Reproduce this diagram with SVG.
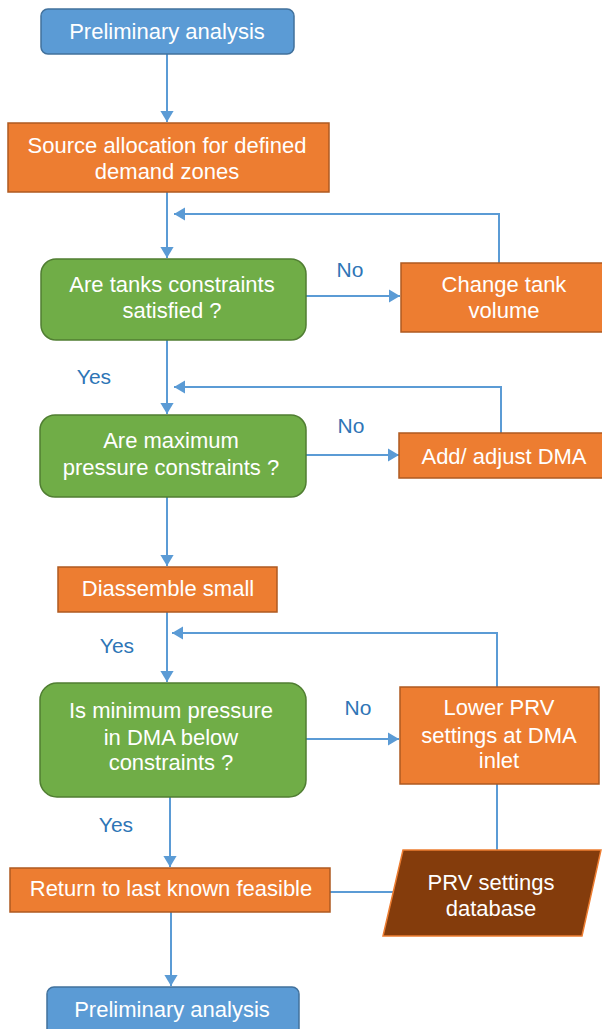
<svg xmlns="http://www.w3.org/2000/svg" width="602" height="1029" viewBox="0 0 602 1029">
<defs>
<marker id="ah" viewBox="0 0 10 12" refX="10" refY="6" markerWidth="5.5" markerHeight="6.6" orient="auto" markerUnits="strokeWidth">
<path d="M0,0 L10,6 L0,12 z" fill="#5B9BD5"/>
</marker>
<style>
.blue{fill:#5B9BD5;stroke:#41719C;stroke-width:1.5}
.orange{fill:#ED7D31;stroke:#AE5A21;stroke-width:1.5}
.green{fill:#70AD47;stroke:#507E32;stroke-width:1.5}
.db{fill:#843C0C;stroke:#ED7D31;stroke-width:1.5}
.t{font-family:"Liberation Sans",Arial,sans-serif;font-size:22px;fill:#FFFFFF;text-anchor:middle;dominant-baseline:central}
.lbl{font-family:"Liberation Sans",Arial,sans-serif;font-size:21px;fill:#2E75B6;text-anchor:middle;dominant-baseline:central}
.c{fill:none;stroke:#5B9BD5;stroke-width:2}
.ca{fill:none;stroke:#5B9BD5;stroke-width:2;marker-end:url(#ah)}
</style>
</defs>
<rect width="602" height="1029" fill="#FFFFFF"/>
<g id="connectors">
<line class="ca" x1="167" y1="54" x2="167" y2="122"/>
<line class="ca" x1="167" y1="192" x2="167" y2="258"/>
<polyline class="ca" points="499,263 499,214 174,214"/>
<line class="ca" x1="306" y1="296" x2="400" y2="296"/>
<line class="ca" x1="167" y1="340" x2="167" y2="414"/>
<polyline class="ca" points="501,433 501,387 174,387"/>
<line class="ca" x1="306" y1="455" x2="399" y2="455"/>
<line class="ca" x1="167" y1="497" x2="167" y2="566"/>
<line class="ca" x1="167" y1="612" x2="167" y2="682"/>
<polyline class="ca" points="497,687 497,633 172,633"/>
<line class="ca" x1="306" y1="739" x2="399" y2="739"/>
<line class="c" x1="497" y1="784" x2="497" y2="850"/>
<line class="ca" x1="170" y1="797" x2="170" y2="867"/>
<line class="c" x1="330" y1="892" x2="393" y2="892"/>
<line class="ca" x1="171" y1="912" x2="171" y2="986"/>
</g>
<g id="n1"><rect class="blue" x="41" y="9" width="253" height="45" rx="7"/><text class="t" x="167" y="31">Preliminary analysis</text></g>
<g id="n2"><rect class="orange" x="8" y="123" width="321" height="69"/><text class="t" x="167" y="145">Source allocation for defined</text><text class="t" x="167" y="171">demand zones</text></g>
<g id="n3"><rect class="green" x="41" y="259" width="265" height="81" rx="15"/><text class="t" x="172" y="284">Are tanks constraints</text><text class="t" x="172" y="310">satisfied ?</text></g>
<g id="n4"><rect class="orange" x="401" y="263" width="205" height="69"/><text class="t" x="504" y="284">Change tank</text><text class="t" x="504" y="310">volume</text></g>
<g id="n5"><rect class="green" x="40" y="415" width="266" height="82" rx="15"/><text class="t" x="171" y="440">Are maximum</text><text class="t" x="171" y="467">pressure constraints ?</text></g>
<g id="n6"><rect class="orange" x="399" y="433" width="207" height="45"/><text class="t" x="504" y="456">Add/ adjust DMA</text></g>
<g id="n7"><rect class="orange" x="58" y="567" width="219" height="45"/><text class="t" x="168" y="588">Diassemble small</text></g>
<g id="n8"><rect class="green" x="40" y="683" width="266" height="114" rx="17"/><text class="t" x="171" y="710">Is minimum pressure</text><text class="t" x="171" y="737">in DMA below</text><text class="t" x="171" y="762">constraints ?</text></g>
<g id="n9"><rect class="orange" x="400" y="687" width="199" height="97"/><text class="t" x="499" y="707">Lower PRV</text><text class="t" x="499" y="735">settings at DMA</text><text class="t" x="499" y="760">inlet</text></g>
<g id="n10"><polygon class="db" points="403,850 601,850 582,936 383,936"/><text class="t" x="491" y="882">PRV settings</text><text class="t" x="491" y="908">database</text></g>
<g id="n11"><rect class="orange" x="10" y="868" width="320" height="44"/><text class="t" x="171" y="888">Return to last known feasible</text></g>
<g id="n12"><rect class="blue" x="47" y="987" width="252" height="50" rx="7"/><text class="t" x="172" y="1009">Preliminary analysis</text></g>
<g id="labels">
<text class="lbl" x="350" y="269">No</text>
<text class="lbl" x="94" y="376">Yes</text>
<text class="lbl" x="351" y="425">No</text>
<text class="lbl" x="117" y="645">Yes</text>
<text class="lbl" x="358" y="707">No</text>
<text class="lbl" x="116" y="824">Yes</text>
</g>
</svg>
